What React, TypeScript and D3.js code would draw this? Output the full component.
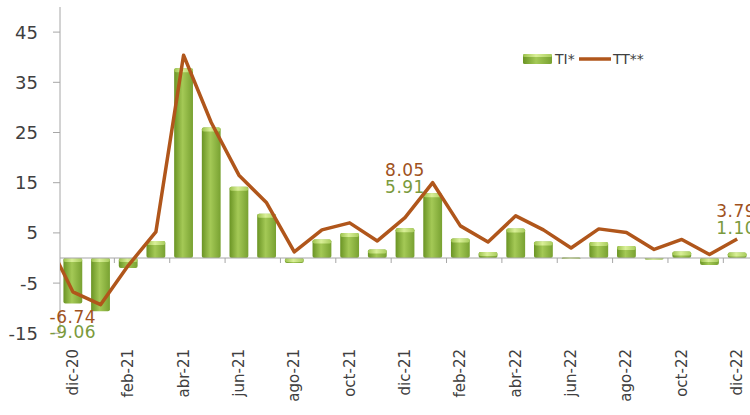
import React from 'react';
import * as d3 from 'd3';

// months shown on the category axis
const months = [
	'dic-20', 'ene-21', 'feb-21', 'mar-21', 'abr-21', 'may-21', 'jun-21', 'jul-21', 'ago-21', 'sep-21', 'oct-21', 'nov-21',
	'dic-21', 'ene-22', 'feb-22', 'mar-22', 'abr-22', 'may-22', 'jun-22', 'jul-22', 'ago-22', 'sep-22', 'oct-22', 'nov-22', 'dic-22',
];

// TI* (bars)
const tiValues = [
	-9.06, -10.6, -2.0, 3.4, 37.8, 26.0, 14.2, 8.8, -1.0, 3.7, 5.0, 1.7,
	5.91, 12.9, 3.9, 1.2, 5.9, 3.3, 0.1, 3.2, 2.4, -0.3, 1.3, -1.4, 1.10,
];

// TT** (line)
const ttValues = [
	-6.74, -9.3, -1.5, 5.2, 40.4, 27.0, 16.5, 11.0, 1.2, 5.6, 7.0, 3.4,
	8.05, 15.0, 6.4, 3.2, 8.4, 5.6, 2.0, 5.8, 5.1, 1.7, 3.7, 0.7, 3.79,
];
// value of the month before dic-20, only its segment shows (clipped)
const ttPrevValue = 4.4;

const yTicks = [-15, -5, 5, 15, 25, 35, 45];
const labelledMonths = ['dic-20', 'dic-21', 'dic-22'];

const WIDTH = 750;
const HEIGHT = 415;
const FONT = '"DejaVu Sans", sans-serif';
const BROWN = '#b0561b';
const BROWN_TEXT = '#a0521d';
const GREEN_TEXT = '#7a9a3c';
const AXIS = '#a6a6a6';

export default function App() {
	const y = d3.scaleLinear().domain([-15, 50]).range([333.3, 7]);
	const x = d3.scaleBand<string>().domain(months).range([59, 751]).padding(0);
	const step = x.step();
	const cx = (m: string) => (x(m) ?? 0) + step / 2;
	const barW = step * 0.68;
	const y0 = y(0);

	const line = d3.line<[number, number]>()
		.x(d => d[0])
		.y(d => d[1]);
	const linePts: [number, number][] = [
		[cx(months[0]) - step, y(ttPrevValue)],
		...months.map((m, i) => [cx(m), y(ttValues[i])] as [number, number]),
	];

	// manual offsets for the data labels (px above / below the line point)
	const labelPos: Record<string, { dx: number; tt: number; ti: number; anchor: string }> = {
		'dic-20': { dx: 0, tt: 31, ti: 46, anchor: 'middle' },
		'dic-21': { dx: 0, tt: -42, ti: -25, anchor: 'middle' },
		'dic-22': { dx: -21, tt: -22, ti: -5, anchor: 'start' },
	};

	return (
		<svg width={WIDTH} height={HEIGHT} style={{ position: 'absolute', left: 0, top: 0, background: '#fff' }}
			fontFamily={FONT}>
			<defs>
				<linearGradient id="barGrad" x1="0" x2="1" y1="0" y2="0">
					<stop offset="0%" stopColor="#6a9424" />
					<stop offset="45%" stopColor="#a4c956" />
					<stop offset="100%" stopColor="#78a131" />
				</linearGradient>
				<linearGradient id="capGrad" x1="0" x2="1" y1="0" y2="0">
					<stop offset="0%" stopColor="#9cc24c" />
					<stop offset="45%" stopColor="#d9ef98" />
					<stop offset="100%" stopColor="#a8cc5c" />
				</linearGradient>
				<clipPath id="plotClip">
					<rect x={60} y={0} width={WIDTH - 60} height={HEIGHT} />
				</clipPath>
			</defs>

			{/* y axis */}
			<line x1={60} x2={60} y1={y(50)} y2={y(-15)} stroke={AXIS} strokeWidth={1} />
			{yTicks.map(t => (
				<g key={t}>
					<line x1={53} x2={60} y1={y(t)} y2={y(t)} stroke={AXIS} />
					<text x={38} y={y(t)} textAnchor="end" dominantBaseline="central" fontSize={18} fill="#404040">{t}</text>
				</g>
			))}

			{/* bars */}
			{months.map((m, i) => {
				const v = tiValues[i];
				const top = Math.min(y(v), y0);
				const h = Math.max(Math.abs(y(v) - y0), 1.5);
				const bx = cx(m) - barW / 2;
				return (
					<g key={m}>
						<rect x={bx} y={top} width={barW} height={h} rx={2} fill="url(#barGrad)" />
						<rect x={bx} y={top} width={barW} height={Math.min(4, h)} rx={2} fill="url(#capGrad)" />
					</g>
				);
			})}

			{/* x axis at zero */}
			<line x1={60} x2={WIDTH} y1={y0} y2={y0} stroke={AXIS} />
			{months.map((m, i) => (i % 2 === 0 && i > 0 ? (
				<line key={m} x1={x(m)} x2={x(m)} y1={y0} y2={y0 + 5} stroke={AXIS} />
			) : null))}

			{/* TT line */}
			<path d={line(linePts) ?? ''} fill="none" stroke={BROWN} strokeWidth={3.5} strokeLinejoin="round"
				clipPath="url(#plotClip)" />

			{/* category labels */}
			{months.map((m, i) => (i % 2 === 0 ? (
				<text key={m} transform={`translate(${cx(m)},349) rotate(-90)`} textAnchor="end" dominantBaseline="central"
					fontSize={15} fill="#404040">{m}</text>
			) : null))}

			{/* data labels */}
			{labelledMonths.map(m => {
				const i = months.indexOf(m);
				const p = labelPos[m];
				const py = y(ttValues[i]);
				return (
					<g key={m} fontSize={17} letterSpacing={0.5}>
						<text x={cx(m) + p.dx} y={py + p.tt} textAnchor={p.anchor} fill={BROWN_TEXT}>{ttValues[i].toFixed(2)}</text>
						<text x={cx(m) + p.dx} y={py + p.ti} textAnchor={p.anchor} fill={GREEN_TEXT}>{tiValues[i].toFixed(2)}</text>
					</g>
				);
			})}

			{/* legend */}
			<g fontSize={14} fill="#404040">
				<rect x={523} y={54} width={29} height={10} rx={1.5} fill="url(#barGrad)" />
				<rect x={523} y={54} width={29} height={3} rx={1.5} fill="url(#capGrad)" />
				<text x={555} y={64}>TI*</text>
				<line x1={579} x2={611} y1={59} y2={59} stroke={BROWN} strokeWidth={3.5} />
				<text x={613} y={64}>TT**</text>
			</g>
		</svg>
	);
}
